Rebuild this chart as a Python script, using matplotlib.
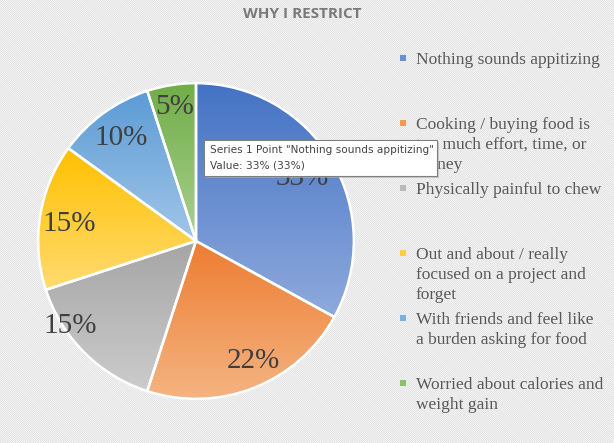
import numpy as np
import matplotlib
matplotlib.use('Agg')
import matplotlib.pyplot as plt
from matplotlib.colors import LinearSegmentedColormap
from matplotlib.patches import Rectangle

# data
reasons = ['Nothing sounds appitizing',
           'Cooking / buying food is\ntoo much effort, time, or\nmoney',
           'Physically painful to chew',
           'Out and about / really\nfocused on a project and\nforget',
           'With friends and feel like\na burden asking for food',
           'Worried about calories and\nweight gain']
shares = [33, 22, 15, 15, 10, 5]
top_colors = ['#4472C4', '#ED7D31', '#A5A5A5', '#FFC000', '#5B9BD5', '#70AD47']
bottom_colors = ['#8FAADC', '#F5B584', '#CCCCCC', '#FFDB70', '#A2C6E8', '#ABD191']
legend_colors = ['#6A8FD0', '#F09A5C', '#BBBBBB', '#FFCE45', '#7DAFDF', '#8DC06B']
# label placement (radius fraction, angle nudge in degrees)
label_dist = [0.78, 0.84, 0.96, 0.81, 0.81, 0.86]
label_nudge = [0, 4, -11, 1.5, 0, 0]

W, H = 614, 443
def px(x, y):
    return x / W, 1 - y / H

plt.rcParams['hatch.linewidth'] = 0.5
plt.rcParams['hatch.color'] = '#d6d6d6'

fig = plt.figure(figsize=(W / 100, H / 100), dpi=100)
fig.patch.set_facecolor('white')
fig.patches.append(Rectangle((0, 0), 1, 1, transform=fig.transFigure, facecolor='white',
                             edgecolor='#d6d6d6', hatch='\\' * 16, linewidth=0, zorder=-10))

fig.text(*px(302, 14), 'WHY I RESTRICT', ha='center', va='center', fontsize=11,
         fontweight='bold', color='#7a7a7a', family='Open Sans')

cx, cy, r = 196, 241, 161
ax = fig.add_axes([(cx - r) / W, (H - cy - r) / H, 2 * r / W, 2 * r / H])
ax.set_axis_off()
wedges, _ = ax.pie(shares, startangle=90, counterclock=False, radius=1,
                   wedgeprops=dict(edgecolor='white', linewidth=1.8, facecolor='none'))

grad = np.linspace(0, 1, 256).reshape(-1, 1)
for i, w in enumerate(wedges):
    v = w.get_path().vertices
    cmap = LinearSegmentedColormap.from_list('g%d' % i, [bottom_colors[i], top_colors[i]])
    im = ax.imshow(grad, cmap=cmap, extent=[v[:, 0].min(), v[:, 0].max(), v[:, 1].min(), v[:, 1].max()],
                   origin='lower', aspect='auto', zorder=1)
    im.set_clip_path(w)
    w.set_zorder(2)
    mid = np.deg2rad((w.theta1 + w.theta2) / 2 + label_nudge[i])
    ax.text(label_dist[i] * np.cos(mid), label_dist[i] * np.sin(mid), '%d%%' % shares[i],
            ha='center', va='center', fontsize=21, color='#404040', family='Liberation Serif', zorder=3)
ax.set_xlim(-1.02, 1.02)
ax.set_ylim(-1.02, 1.02)

# legend
for i, lab in enumerate(reasons):
    y = 58 + 65 * i
    fig.patches.append(Rectangle(px(400, y + 3), 6 / W, 6 / H, transform=fig.transFigure,
                                 facecolor=legend_colors[i], edgecolor='none'))
    fig.text(*px(416, y - 6), lab, ha='left', va='top', fontsize=12.5, color='#595959',
             family='Liberation Serif', linespacing=1.32)

# tooltip
fig.patches.append(Rectangle(px(206, 178), 233 / W, 36 / H, transform=fig.transFigure,
                             facecolor='#b0b0b0', edgecolor='none', alpha=0.6, zorder=5))
fig.patches.append(Rectangle(px(204, 176), 233 / W, 36 / H, transform=fig.transFigure,
                             facecolor='white', edgecolor='#808080', linewidth=0.8, zorder=6))
fig.text(*px(210, 150), 'Series 1 Point "Nothing sounds appitizing"', ha='left', va='center',
         fontsize=7.6, color='#444444', family='DejaVu Sans', zorder=7)
fig.text(*px(210, 166), 'Value: 33% (33%)', ha='left', va='center',
         fontsize=7.6, color='#444444', family='DejaVu Sans', zorder=7)

fig.savefig('out.png', dpi=100)
